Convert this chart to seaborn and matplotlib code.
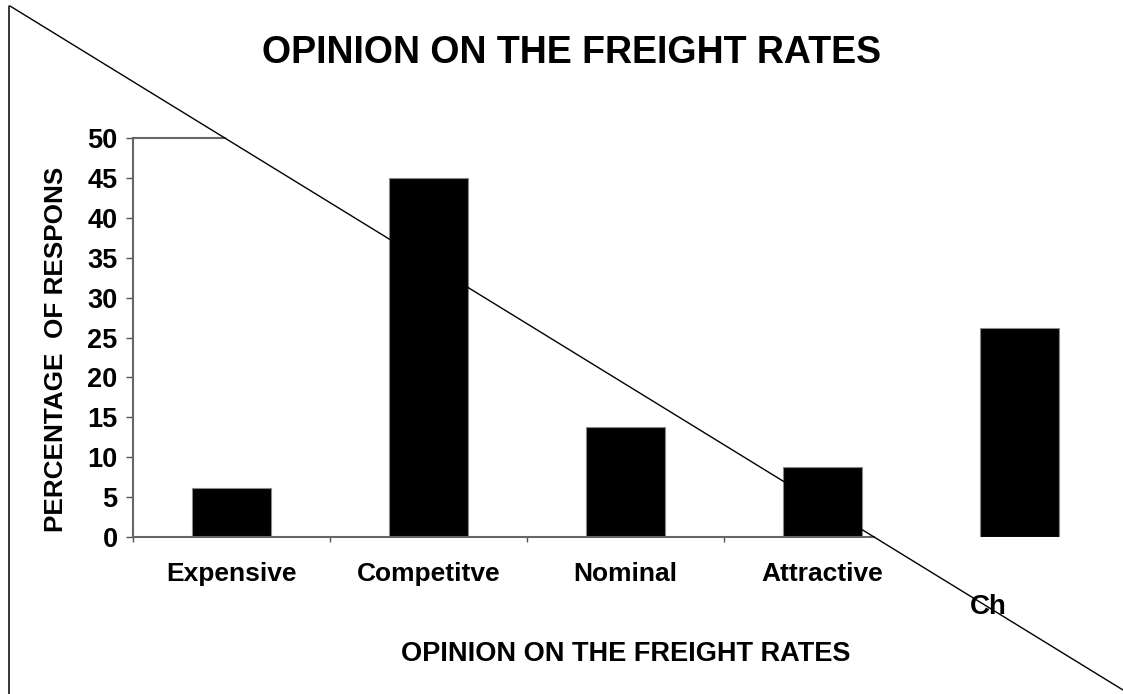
import matplotlib
matplotlib.use("Agg")
import matplotlib.pyplot as plt
from matplotlib.lines import Line2D
import matplotlib.transforms as mtransforms
import seaborn as sns
import pandas as pd

# Survey responses: opinion on the freight rates (percent of respondents)
categories = ["Expensive", "Competitve", "Nominal", "Attractive", "Ch"]
percentages = [6.2, 45.0, 13.8, 8.8, 26.2]
y_ticks = [0, 5, 10, 15, 20, 25, 30, 35, 40, 45, 50]

title_text = "OPINION ON THE FREIGHT RATES"
x_label_text = "OPINION ON THE FREIGHT RATES"
y_label_text = "PERCENTAGE  OF RESPONS"

sns.set_style("white")
plt.rcParams["font.family"] = ["Liberation Sans", "DejaVu Sans"]
plt.rcParams["font.weight"] = "bold"
for key in ("text.color", "axes.labelcolor", "xtick.labelcolor", "ytick.labelcolor"):
    plt.rcParams[key] = "black"

W, H = 1123, 694
fig = plt.figure(figsize=(W / 100, H / 100), dpi=100)
ax = fig.add_axes([133 / W, 1 - 537 / H, 985 / W, 399 / H])

df = pd.DataFrame({"opinion": categories, "pct": percentages})
sns.barplot(data=df, x="opinion", y="pct", color="black", saturation=1,
            width=0.4, edgecolor="#8a8a8a", linewidth=0.8, ax=ax)

ax.set_xlim(-0.5, len(categories) - 0.5)
ax.set_ylim(0, 50)
ax.set_yticks(y_ticks)
ax.set_yticklabels([str(v) for v in y_ticks], fontsize=19.5, fontweight="bold",
                   color="black")
ax.tick_params(axis="y", direction="out", length=5, width=1.0, color="#555555",
               pad=6, left=True)

# category labels (the last one is placed separately, lower and clipped)
ax.set_xticks(range(4))
ax.set_xticklabels(categories[:4], fontsize=19, fontweight="bold", color="black")
ax.tick_params(axis="x", which="major", length=0, pad=18)
ax.set_xticks([-0.5, 0.5, 1.5, 2.5], minor=True)
ax.tick_params(axis="x", which="minor", direction="out", length=3.6, width=1.0,
               color="#555555", bottom=True)

ax.text(4, 0, categories[4], fontsize=20, fontweight="bold", color="black",
        ha="left", va="top",
        transform=mtransforms.offset_copy(ax.get_xaxis_transform(),
                                          fig=fig, x=-50, y=-57,
                                          units="dots"))

ax.set_xlabel(x_label_text, fontsize=19.5, fontweight="bold", color="black")
ax.xaxis.set_label_coords(0.5005, -0.3108)
ax.xaxis.label.set_verticalalignment("baseline")
ax.set_ylabel(y_label_text, fontsize=18.8, fontweight="bold", color="black")
ax.yaxis.set_label_coords(-0.066, 0.471)

fig.text(572 / W, 1 - 63 / H, title_text, fontsize=27, fontweight="bold",
         color="black", ha="center", va="baseline")

# frame: left border and the diagonal stroke across the sheet
p0 = (10 / W, 1 - 6 / H)
p1 = (1.0, 1 - 690 / H)
fig.add_artist(Line2D([9 / W, 9 / W], [1 - 6 / H, 0], transform=fig.transFigure,
                      color="black", lw=1.1))
fig.add_artist(Line2D([p0[0], p1[0]], [p0[1], p1[1]], transform=fig.transFigure,
                      color="black", lw=1.0, zorder=10))

# spines stop where the diagonal crosses them
for sp in ax.spines.values():
    sp.set_color("#666666")
    sp.set_linewidth(1.5)
ax.spines["right"].set_visible(False)

d0 = fig.transFigure.transform(p0)
d1 = fig.transFigure.transform(p1)


def crossing_x(y_disp):
    return d0[0] + (y_disp - d0[1]) * (d1[0] - d0[0]) / (d1[1] - d0[1])


inv = ax.transData.inverted()
y_bot = ax.transAxes.transform((0, 0))[1]
y_top = ax.transAxes.transform((0, 1))[1]
x_bot = inv.transform((crossing_x(y_bot), y_bot))[0]
x_top = inv.transform((crossing_x(y_top), y_top))[0]
ax.spines["bottom"].set_bounds(-0.5, x_bot)
ax.spines["top"].set_bounds(-0.5, x_top)

fig.savefig("out.png", dpi=100)
